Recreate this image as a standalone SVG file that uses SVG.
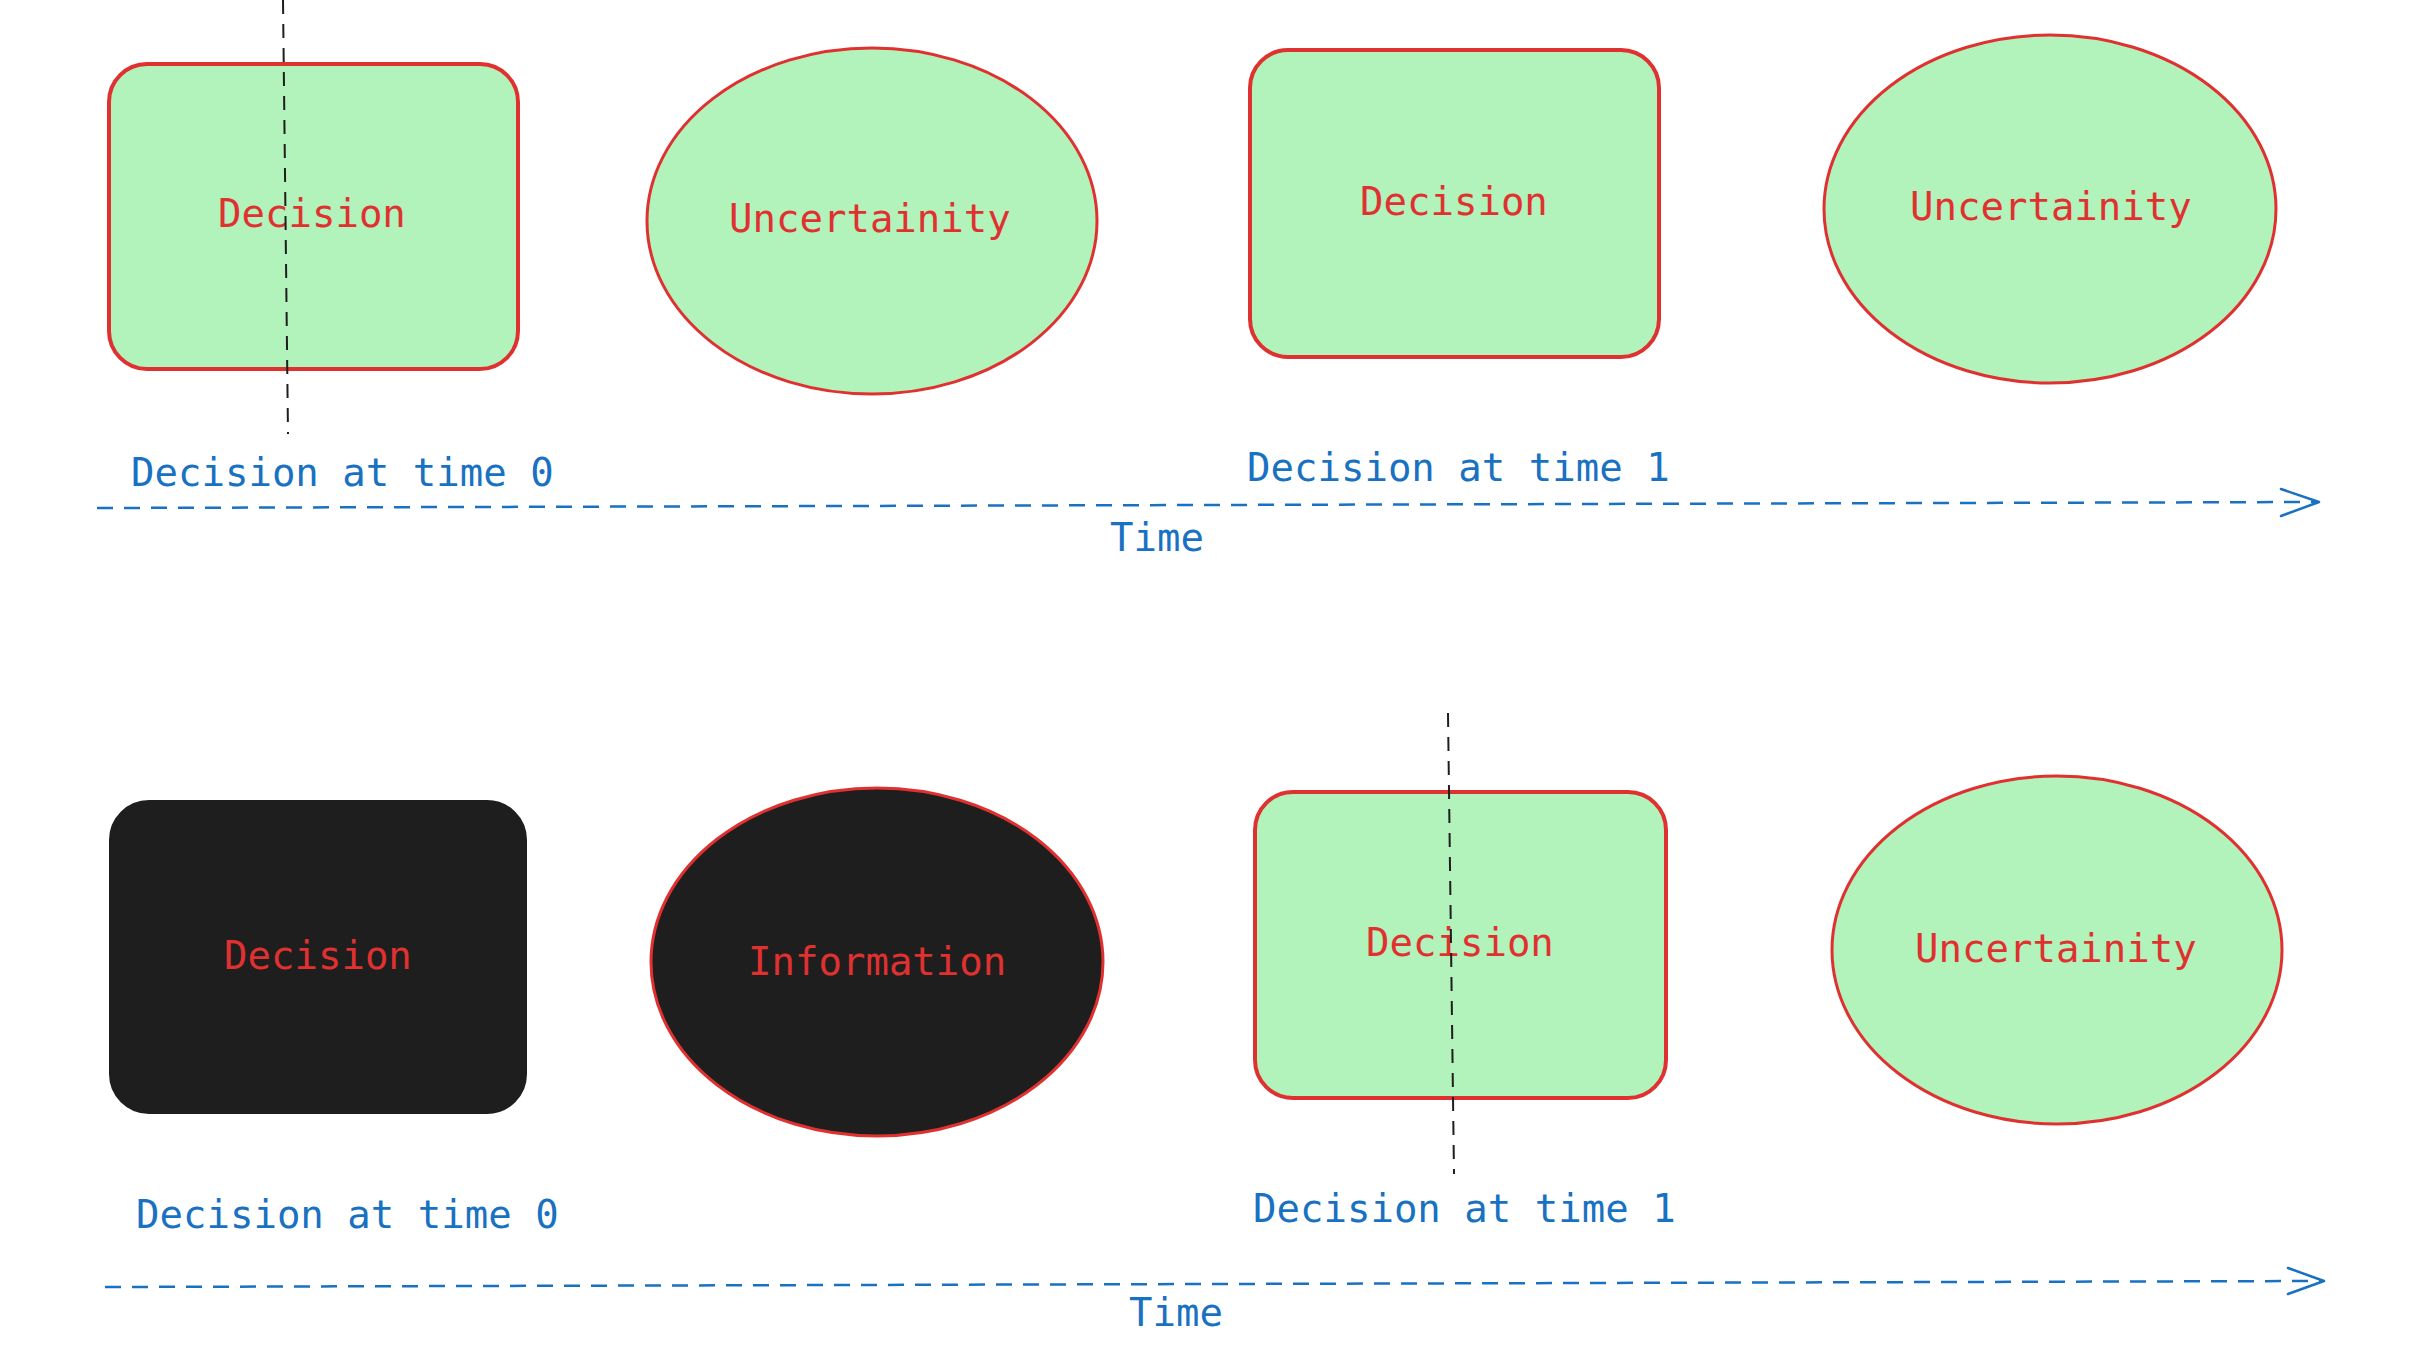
<svg xmlns="http://www.w3.org/2000/svg" width="2432" height="1362" viewBox="0 0 2432 1362">
<style>
.box{fill:#b2f2bb;stroke:#e03131;stroke-width:4}
.ell{fill:#b2f2bb;stroke:#e03131;stroke-width:3}
.dark{fill:#1e1e1e;stroke:#1e1e1e;stroke-width:4}
.darkell{fill:#1e1e1e;stroke:#e03131;stroke-width:3}
.lbl{font-family:"DejaVu Sans Mono","Liberation Mono",monospace;font-size:39px;fill:#e03131}
.blue{font-family:"DejaVu Sans Mono","Liberation Mono",monospace;font-size:39px;fill:#1971c2}
.axis{fill:none;stroke:#1971c2;stroke-width:2.5;stroke-dasharray:16 11}
.head{fill:none;stroke:#1971c2;stroke-width:2.5;stroke-linecap:round;stroke-linejoin:round}
.cut{fill:none;stroke:#1e1e1e;stroke-width:2;stroke-dasharray:14 10}
</style>
<rect width="2432" height="1362" fill="#ffffff"/>
<g id="top-decision0">
<rect class="box" x="109" y="64" width="409" height="305" rx="38"/>
<text class="lbl" x="218" y="227">Decision</text>
</g>
<g id="top-uncertainty0">
<ellipse class="ell" cx="872" cy="221" rx="225" ry="173"/>
<text class="lbl" x="729" y="232">Uncertainity</text>
</g>
<g id="top-decision1">
<rect class="box" x="1250" y="50" width="409" height="307" rx="38"/>
<text class="lbl" x="1360" y="215">Decision</text>
</g>
<g id="top-uncertainty1">
<ellipse class="ell" cx="2050" cy="209" rx="226" ry="174"/>
<text class="lbl" x="1910" y="220">Uncertainity</text>
</g>
<g id="bottom-decision0">
<rect class="dark" x="111" y="802" width="414" height="310" rx="38"/>
<text class="lbl" x="224" y="969">Decision</text>
</g>
<g id="bottom-information">
<ellipse class="darkell" cx="877" cy="962" rx="226" ry="174"/>
<text class="lbl" x="748" y="975">Information</text>
</g>
<g id="bottom-decision1">
<rect class="box" x="1255" y="792" width="411" height="306" rx="38"/>
<text class="lbl" x="1366" y="956">Decision</text>
</g>
<g id="bottom-uncertainty1">
<ellipse class="ell" cx="2057" cy="950" rx="225" ry="174"/>
<text class="lbl" x="1915" y="962">Uncertainity</text>
</g>
<g id="labels">
<text class="blue" x="131" y="486">Decision at time 0</text>
<text class="blue" x="1247" y="481">Decision at time 1</text>
<text class="blue" x="1110" y="551">Time</text>
<text class="blue" x="136" y="1228">Decision at time 0</text>
<text class="blue" x="1253" y="1222">Decision at time 1</text>
<text class="blue" x="1129" y="1326">Time</text>
</g>
<g id="connectors">
<line class="cut" x1="283" y1="0" x2="288" y2="434"/>
<line class="cut" x1="1448" y1="713" x2="1454" y2="1174"/>
<line class="axis" x1="97" y1="508" x2="2317" y2="502"/>
<polyline class="head" points="2281,489 2319,502 2281,516"/>
<line class="axis" x1="105" y1="1287" x2="2322" y2="1281"/>
<polyline class="head" points="2288,1268 2324,1281 2288,1294"/>
</g>
</svg>
